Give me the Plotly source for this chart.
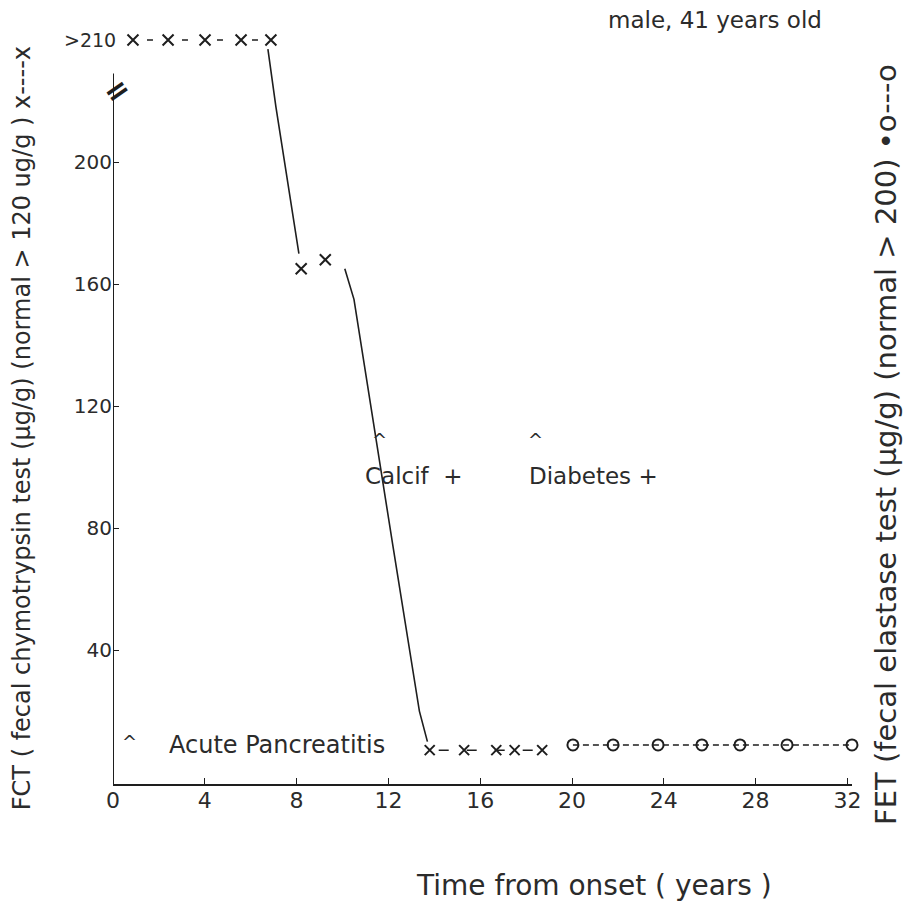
import plotly.graph_objects as go

# ---- data ----
# FCT (fecal chymotrypsin test), value 240 stands for the "> 210" row
fct_top_years = [0.87, 2.40, 4.01, 5.58, 6.88]
fct_top_vals = [240, 240, 240, 240, 240]

fct_fall1_years = [6.75, 7.1, 8.1]
fct_fall1_vals = [237, 218, 170]

fct_mid_years = [8.2, 9.25]
fct_mid_vals = [165, 168]

fct_fall2_years = [10.1, 10.5, 12.2, 13.35, 13.7]
fct_fall2_vals = [165, 155, 74, 20, 10]

fct_low_years = [13.8, 15.3, 16.7, 17.5, 18.7]
fct_low_vals = [7.2, 7.2, 7.2, 7.2, 7.2]

# FET (fecal elastase test)
fet_years = [20.04, 21.79, 23.75, 25.66, 27.32, 29.37, 32.2]
fet_vals = [8.9, 8.9, 8.9, 8.9, 8.9, 8.9, 8.9]

x_ticks = [0, 4, 8, 12, 16, 20, 24, 28, 32]
y_ticks = [40, 80, 120, 160, 200]

INK = "#1e1e1e"
TXT = "#2b2b2b"
FONT = "DejaVu Sans"

fig = go.Figure()

xmark = dict(symbol="x-thin-open", size=11, color=INK, line=dict(color=INK, width=2))

fig.add_trace(go.Scatter(
    x=fct_top_years, y=fct_top_vals, mode="lines+markers",
    line=dict(color=INK, width=1.5, dash="0px,14px,6px,15px"),
    marker=xmark, cliponaxis=False, showlegend=False))

fig.add_trace(go.Scatter(
    x=fct_fall1_years, y=fct_fall1_vals, mode="lines",
    line=dict(color=INK, width=1.6), cliponaxis=False, showlegend=False))

fig.add_trace(go.Scatter(
    x=fct_mid_years, y=fct_mid_vals, mode="markers",
    marker=xmark, cliponaxis=False, showlegend=False))

fig.add_trace(go.Scatter(
    x=fct_fall2_years, y=fct_fall2_vals, mode="lines",
    line=dict(color=INK, width=1.6), cliponaxis=False, showlegend=False))

fig.add_trace(go.Scatter(
    x=fct_low_years, y=fct_low_vals, mode="lines+markers",
    line=dict(color=INK, width=1.5, dash="0px,9px,10px,9px"),
    marker=dict(symbol="x-thin-open", size=10, color=INK, line=dict(color=INK, width=2)),
    cliponaxis=False, showlegend=False))

fig.add_trace(go.Scatter(
    x=fet_years, y=fet_vals, mode="lines+markers",
    line=dict(color=INK, width=1.5, dash="6px,4px"),
    marker=dict(symbol="circle-open", size=11, color=INK,
                line=dict(color=INK, width=2)),
    cliponaxis=False, showlegend=False))

# left axis line (ends below the "> 210" row)
fig.add_shape(type="line", xref="x", yref="y", x0=0, x1=0, y0=-3.9, y1=229,
              line=dict(color=INK, width=2))

C = dict(xanchor="center", yanchor="middle", showarrow=False)
ann = []
ann.append(dict(xref="x", yref="y", x=0.15, y=223.5, text="<b>=</b>", textangle=-35,
                font=dict(family=FONT, size=30, color=INK), **C))
ann.append(dict(xref="x", yref="y", x=0.2, y=240, text=">210", xanchor="right",
                yanchor="middle", showarrow=False,
                font=dict(family=FONT, size=19, color=TXT)))
ann.append(dict(xref="x", yref="y", x=0.74, y=10, text="^",
                font=dict(family=FONT, size=18, color=TXT), **C))
ann.append(dict(xref="x", yref="y", x=2.35, y=9, text="Acute Pancreatitis", xanchor="left",
                yanchor="middle", showarrow=False,
                font=dict(family=FONT, size=24, color=TXT)))
ann.append(dict(xref="x", yref="y", x=11.6, y=109, text="^",
                font=dict(family=FONT, size=18, color=TXT), **C))
ann.append(dict(xref="x", yref="y", x=10.9, y=97, text="Calcif  +", xanchor="left",
                yanchor="middle", showarrow=False,
                font=dict(family=FONT, size=23, color=TXT)))
ann.append(dict(xref="x", yref="y", x=18.4, y=109, text="^",
                font=dict(family=FONT, size=18, color=TXT), **C))
ann.append(dict(xref="x", yref="y", x=18.05, y=97, text="Diabetes +", xanchor="left",
                yanchor="middle", showarrow=False,
                font=dict(family=FONT, size=23, color=TXT)))
ann.append(dict(xref="paper", yref="paper", x=0.815, y=1.013, text="male, 41 years old",
                font=dict(family=FONT, size=23, color=TXT), **C))
ann.append(dict(xref="paper", yref="paper", x=0.651, y=-0.134,
                text="Time from onset ( years )",
                font=dict(family=FONT, size=28, color=TXT), **C))
ann.append(dict(xref="paper", yref="paper", x=-0.123, y=0.472, textangle=-90,
                text="FCT ( fecal chymotrypsin test (µg/g) (normal > 120 ug/g ) x----x",
                font=dict(family=FONT, size=24, color=TXT), **C))
ann.append(dict(xref="paper", yref="paper", x=1.045, y=0.45, textangle=-90,
                text="FET (fecal elastase test (µg/g) (normal > 200) •o---o",
                font=dict(family=FONT, size=29, color=TXT), **C))

fig.update_layout(
    width=911, height=902,
    margin=dict(l=105, r=67, t=22, b=126, autoexpand=False),
    paper_bgcolor="white", plot_bgcolor="white",
    annotations=ann,
    xaxis=dict(range=[0, 32.2], tickvals=x_ticks, showgrid=False, zeroline=False,
               showline=True, linecolor=INK, linewidth=2, ticks="inside", ticklen=6,
               tickcolor=INK, ticklabelstandoff=-4,
               tickfont=dict(family=FONT, size=22, color=TXT)),
    yaxis=dict(range=[-3.9, 243.3], tickvals=y_ticks, showgrid=False, zeroline=False,
               showline=False, ticks="inside", ticklen=6, tickcolor=INK,
               tickfont=dict(family=FONT, size=20, color=TXT)),
)

fig.write_html("out.html")
